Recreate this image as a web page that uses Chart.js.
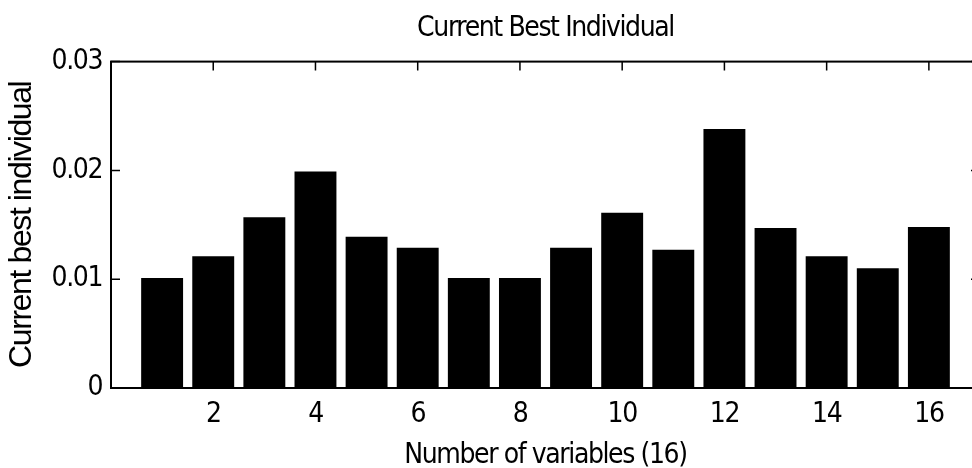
<!DOCTYPE html>
<html>
<head>
<meta charset="utf-8">
<script src="https://cdn.jsdelivr.net/npm/chart.js@4"></script>
<style>
  html, body { margin: 0; padding: 0; background: #fff; overflow: hidden; }
  #wrap { width: 990px; height: 468px; }
</style>
</head>
<body>
<div id="wrap"><canvas id="barChart"></canvas></div>
<script>
const variables = [1, 2, 3, 4, 5, 6, 7, 8, 9, 10, 11, 12, 13, 14, 15, 16];
const bestValues = [0.0101, 0.0121, 0.0157, 0.0199, 0.0139, 0.0129, 0.0101, 0.0101,
                    0.0129, 0.0161, 0.0127, 0.0238, 0.0147, 0.0121, 0.0110, 0.0148];
const xTicks = [2, 4, 6, 8, 10, 12, 14, 16];
const yTicks = [0, 0.01, 0.02, 0.03];
const yTickLabels = ["0", "0.01", "0.02", "0.03"];

const narrow = "'DejaVu Sans Condensed', 'Liberation Sans', sans-serif";
const wide = "'Liberation Sans', Arial, sans-serif";

// the original font is a narrow helvetica, tighten the spacing a bit
const tightText = {
  id: 'tightText',
  beforeUpdate(chart) { chart.ctx.letterSpacing = '-1.4px'; },
  beforeDraw(chart) { chart.ctx.letterSpacing = '-1.4px'; }
};

// matlab style box with inward ticks on every side
// (canvas is a bit wider than the page, the right edge of the box is cut off like in the original)
const axesFrame = {
  id: 'axesFrame',
  afterDatasetsDraw(chart) {
    const { ctx, chartArea: a, scales: { x, y } } = chart;
    const len = 9;
    ctx.save();
    ctx.strokeStyle = '#000';
    ctx.lineWidth = 1.5;
    ctx.beginPath();
    xTicks.forEach(v => {
      const px = x.getPixelForValue(v);
      ctx.moveTo(px, a.bottom); ctx.lineTo(px, a.bottom - len);
      ctx.moveTo(px, a.top); ctx.lineTo(px, a.top + len);
    });
    yTicks.forEach(v => {
      const py = y.getPixelForValue(v);
      ctx.moveTo(a.left, py); ctx.lineTo(a.left + len, py);
      ctx.moveTo(a.right, py); ctx.lineTo(a.right - len, py);
    });
    ctx.stroke();
    ctx.lineWidth = 2;
    ctx.strokeRect(a.left, a.top, a.right - a.left, a.bottom - a.top);
    ctx.restore();
  }
};

new Chart(document.getElementById("barChart"), {
  type: 'bar',
  data: {
    datasets: [{
      data: variables.map((v, i) => ({ x: v, y: bestValues[i] })),
      backgroundColor: '#000',
      borderWidth: 0,
      barPercentage: 0.82,
      categoryPercentage: 1.0
    }]
  },
  options: {
    responsive: true,
    maintainAspectRatio: false,
    animation: false,
    layout: { padding: { left: 0, right: 10, top: 0, bottom: 0 } },
    plugins: {
      legend: { display: false },
      tooltip: { enabled: false },
      title: {
        display: true,
        text: 'Current Best Individual',
        color: '#000',
        fullSize: false,
        font: { family: narrow, size: 28, weight: 'normal', lineHeight: 1.2 },
        padding: { top: 12, bottom: 16 }
      }
    },
    scales: {
      x: {
        type: 'linear',
        offset: false,
        min: 0,
        max: 17,
        grid: { display: false, drawTicks: false },
        border: { display: false },
        afterBuildTicks: s => { s.ticks = xTicks.map(v => ({ value: v })); },
        afterFit: s => { s.height = 80; },
        ticks: {
          color: '#000',
          padding: 10,
          maxRotation: 0,
          font: { family: narrow, size: 28, lineHeight: 1.2 }
        },
        title: {
          display: true,
          text: 'Number of variables (16)',
          color: '#000',
          font: { family: narrow, size: 28, lineHeight: 0.8 },
          padding: { top: 0, bottom: 1 }
        }
      },
      y: {
        min: 0,
        max: 0.03,
        grid: { display: false, drawTicks: false },
        border: { display: false },
        afterBuildTicks: s => { s.ticks = yTicks.map(v => ({ value: v })); },
        afterFit: s => { s.width = 111; },
        ticks: {
          color: '#000',
          padding: 9,
          font: { family: narrow, size: 28, lineHeight: 1.2 },
          callback: (v, i) => yTickLabels[i]
        },
        title: {
          display: true,
          text: 'Current best individual',
          color: '#000',
          font: { family: wide, size: 32, lineHeight: 1.2 },
          padding: { top: 3, bottom: 0 }
        }
      }
    }
  },
  plugins: [tightText, axesFrame]
});
</script>
</body>
</html>
